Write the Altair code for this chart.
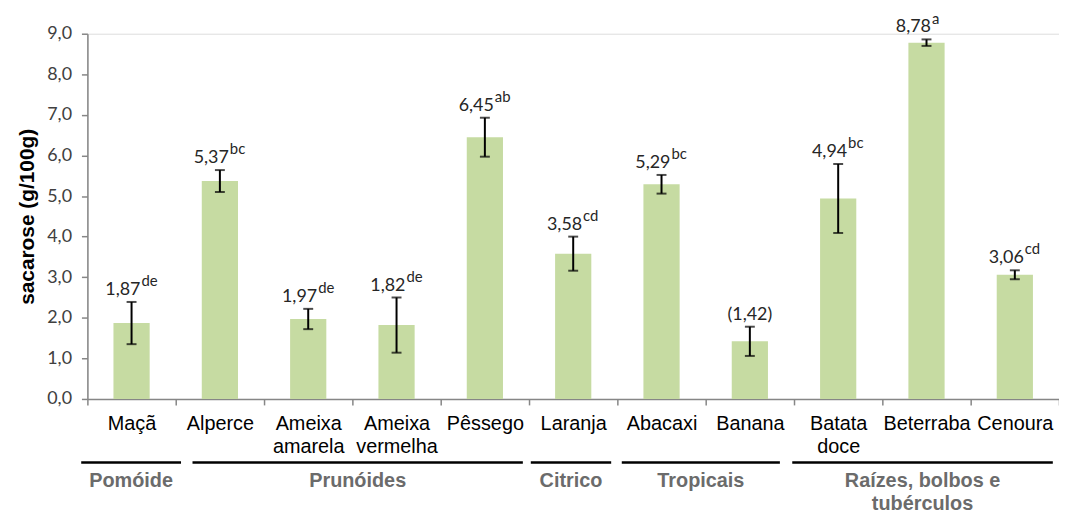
import altair as alt
import pandas as pd

categories = ["Maçã", "Alperce", "Ameixa amarela", "Ameixa vermelha", "Pêssego",
              "Laranja", "Abacaxi", "Banana", "Batata doce", "Beterraba", "Cenoura"]
values = [1.87, 5.37, 1.97, 1.82, 6.45, 3.58, 5.29, 1.42, 4.94, 8.78, 3.06]
errors = [0.52, 0.27, 0.25, 0.68, 0.48, 0.42, 0.23, 0.36, 0.85, 0.08, 0.11]
letters = ["de", "bc", "de", "de", "ab", "cd", "bc", "", "bc", "a", "cd"]

group_names = ["Pomóide", "Prunóides", "Citrico", "Tropicais", "Raízes, bolbos e\ntubérculos"]
group_start = [0, 1, 5, 6, 8]
group_end = [1, 5, 6, 8, 11]

# style: how far each group's underline is inset from its category span (in bands)
line_inset_left = [-0.07, 0.19, 0.02, 0.05, -0.02]
line_inset_right = [-0.06, 0.07, 0.07, 0.16, 0.07]

W, H = 979, 368

def fmt(v, l):
    s = f"{v:.2f}".replace(".", ",")
    return s if l else f"({s})"

df = pd.DataFrame({
    "cat": categories,
    "value": values,
    "lo": [v - e for v, e in zip(values, errors)],
    "hi": [v + e for v, e in zip(values, errors)],
    "letters": letters,
    "label": [fmt(v, l) for v, l in zip(values, letters)],
    "nlet": [len(l) for l in letters],
})

gdf = pd.DataFrame({
    "name": group_names,
    "s": [a + i for a, i in zip(group_start, line_inset_left)],
    "e": [b - i for b, i in zip(group_end, line_inset_right)],
})
gdf["mid"] = (gdf["s"] + gdf["e"]) / 2

x_enc = alt.X("cat:N", sort=categories, title=None,
              scale=alt.Scale(paddingInner=0, paddingOuter=0),
              axis=alt.Axis(labelAngle=0, labelFont="Liberation Sans", labelFontSize=20,
                            labelColor="#000000",
                            labelExpr="isValid(datum.value) ? split(datum.value, ' ') : ''",
                            labelLineHeight=23, labelPadding=9, tickBand="extent",
                            tickSize=6, tickColor="#868686", domainColor="#868686",
                            domainWidth=1.5, tickWidth=1.5, labelBaseline="top"))
y_scale = alt.Scale(domain=[0, 9], nice=False)
y_enc = alt.Y("value:Q", scale=y_scale, title="sacarose (g/100g)",
              axis=alt.Axis(values=list(range(10)), grid=False,
                            labelExpr="replace(format(datum.value, '.1f'), '.', ',')",
                            labelFont="Lato", labelFontSize=18, labelColor="#404040",
                            labelPadding=10, tickSize=6, tickColor="#868686",
                            domainColor="#868686", domainWidth=1.5, tickWidth=1.5,
                            titleFont="Liberation Sans", titleFontSize=21,
                            titleFontWeight="bold", titleColor="#000000", titlePadding=9))

bars = alt.Chart(df).mark_bar(color="#c6dba2", width={"band": 0.41}).encode(x=x_enc, y=y_enc)

rules = alt.Chart(df).mark_rule(color="#000000", strokeWidth=2).encode(
    x=alt.X("cat:N", sort=categories), y=alt.Y("lo:Q", scale=y_scale), y2="hi:Q")
cap_lo = alt.Chart(df).mark_tick(color="#000000", thickness=2, size=10).encode(
    x=alt.X("cat:N", sort=categories), y=alt.Y("lo:Q", scale=y_scale))
cap_hi = alt.Chart(df).mark_tick(color="#000000", thickness=2, size=10).encode(
    x=alt.X("cat:N", sort=categories), y=alt.Y("hi:Q", scale=y_scale))

label_layers = []
for n in sorted(set(len(l) for l in letters)):
    sub = df[df["nlet"] == n]
    shift = 4.5 * n
    if n == 0:
        label_layers.append(alt.Chart(sub).mark_text(
            font="Lato", fontSize=18, color="#262626", baseline="alphabetic",
            align="center", dy=-7).encode(
            x=alt.X("cat:N", sort=categories), y=alt.Y("hi:Q", scale=y_scale), text="label:N"))
    else:
        label_layers.append(alt.Chart(sub).mark_text(
            font="Lato", fontSize=18, color="#262626", baseline="alphabetic",
            align="right", dx=shift, dy=-7).encode(
            x=alt.X("cat:N", sort=categories), y=alt.Y("hi:Q", scale=y_scale), text="label:N"))
        label_layers.append(alt.Chart(sub).mark_text(
            font="Lato", fontSize=15, color="#262626", baseline="alphabetic",
            align="left", dx=shift + 1, dy=-16).encode(
            x=alt.X("cat:N", sort=categories), y=alt.Y("hi:Q", scale=y_scale), text="letters:N"))

gx = alt.Scale(domain=[0, 11], nice=False, zero=False)
glines = alt.Chart(gdf).mark_rule(color="#000000", strokeWidth=2.5).encode(
    x=alt.X("s:Q", scale=gx, axis=None), x2="e:Q", y=alt.value(H + 64))
glabels = alt.Chart(gdf).mark_text(
    font="Liberation Sans", fontSize=20, fontWeight="bold", color="#6b6b6b",
    baseline="top", align="center", lineBreak="\n", lineHeight=23).encode(
    x=alt.X("mid:Q", scale=gx, axis=None), y=alt.value(H + 73), text="name:N")

main = alt.layer(bars, rules, cap_lo, cap_hi, *label_layers)
chart = alt.layer(main, glines, glabels).resolve_scale(x="independent").properties(
    width=W, height=H,
    autosize=alt.AutoSizeParams(type="none"),
    padding={"left": 80, "top": 24, "right": 0, "bottom": 113},
).configure_view(stroke=None).configure(background="white")

chart.save("out.html", embed_options={"renderer": "svg", "actions": False})
